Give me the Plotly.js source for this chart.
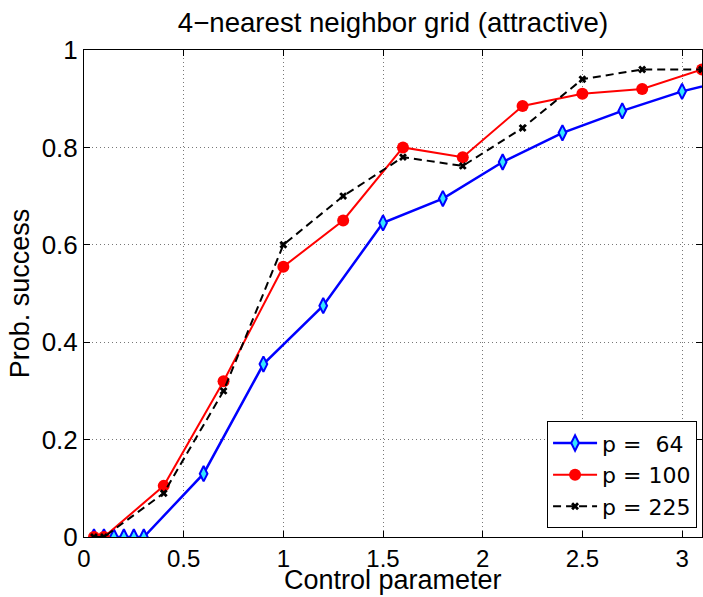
<!DOCTYPE html>
<html>
<head>
<meta charset="utf-8">
<script src="https://cdn.plot.ly/plotly-3.0.1.min.js"></script>
<style>html,body{margin:0;padding:0;background:#fff;}#chart{width:703px;height:597px;}</style>
</head>
<body>
<div id="chart"></div>
<script>
const x64 = [0.05, 0.1, 0.15, 0.2, 0.25, 0.3, 0.6, 0.9, 1.2, 1.5, 1.8, 2.1, 2.4, 2.7, 3.0, 3.3];
const y64 = [0, 0, 0, 0, 0, 0, 0.13, 0.355, 0.475, 0.645, 0.695, 0.77, 0.83, 0.875, 0.915, 0.945];
const x100 = [0.05, 0.1, 0.4, 0.7, 1.0, 1.3, 1.6, 1.9, 2.2, 2.5, 2.8, 3.1];
const y100 = [0, 0, 0.105, 0.32, 0.555, 0.65, 0.80, 0.78, 0.885, 0.91, 0.92, 0.96];
const x225 = [0.05, 0.1, 0.4, 0.7, 1.0, 1.3, 1.6, 1.9, 2.2, 2.5, 2.8, 3.1];
const y225 = [0, 0, 0.09, 0.30, 0.60, 0.70, 0.78, 0.762, 0.84, 0.94, 0.96, 0.96];
const names = ['p =  64', 'p = 100', 'p = 225'];
const xTicks = [0, 0.5, 1, 1.5, 2, 2.5, 3];
const yTicks = [0, 0.2, 0.4, 0.6, 0.8, 1];
const xTitle = 'Control parameter';

const font = {family: 'Liberation Sans, Arial, sans-serif', color: '#000'};
const traces = [
  {x: x64, y: y64, name: names[0], mode: 'lines+markers', cliponaxis: true,
   line: {color: '#0000ff', width: 2.5},
   marker: {symbol: 'diamond-tall', size: 11, color: '#33e6ff', line: {color: '#0000ff', width: 2}}},
  {x: x100, y: y100, name: names[1], mode: 'lines+markers', cliponaxis: true,
   line: {color: '#ff0000', width: 2},
   marker: {symbol: 'circle', size: 12, color: '#ff0000'}},
  {x: x225, y: y225, name: names[2], mode: 'lines+markers', cliponaxis: true,
   line: {color: '#000000', width: 2, dash: '8px,5px'},
   marker: {symbol: 'x', size: 7, color: '#000000'}}
];
const axisCommon = {
  showline: true, linecolor: '#000', linewidth: 1, mirror: 'ticks',
  ticks: 'inside', ticklen: 6, tickcolor: '#000',
  showgrid: true, gridcolor: '#777', griddash: '1px,3px', gridwidth: 1,
  zeroline: false
};
const layout = {
  width: 703, height: 597,
  margin: {l: 84, r: 1, t: 50, b: 60, autoexpand: false},
  paper_bgcolor: '#fff', plot_bgcolor: '#fff',
  title: {text: '4\u2212nearest neighbor grid (attractive)', font: Object.assign({size: 27.6}, font),
    x: 0.559, xanchor: 'center', yref: 'container', y: 0.963, yanchor: 'middle'},
  xaxis: Object.assign({}, axisCommon, {range: [0, 3.1], tickvals: xTicks, ticktext: xTicks.map(String),
    tickfont: Object.assign({size: 24}, font), ticklabelstandoff: 0, automargin: false}),
  yaxis: Object.assign({}, axisCommon, {range: [0, 1], tickvals: yTicks, ticktext: yTicks.map(String),
    tickfont: Object.assign({size: 26}, font), automargin: false, ticklabelstandoff: 0,
    title: {text: 'Prob. success', font: Object.assign({size: 27}, font), standoff: 4}}),
  annotations: [{text: xTitle, xref: 'paper', yref: 'paper', x: 0.5, xanchor: 'center',
    y: -0.1225, yanchor: 'bottom', showarrow: false, font: Object.assign({size: 27}, font)}],
  legend: {x: 0.992, xanchor: 'right', y: 0.018, yanchor: 'bottom', bgcolor: '#fff', bordercolor: '#000', borderwidth: 1,
    font: {family: 'DejaVu Sans, sans-serif', size: 22, color: '#000'}, tracegroupgap: 0, itemwidth: 44},
  showlegend: true
};
Plotly.newPlot('chart', traces, layout, {displayModeBar: false, staticPlot: true});
</script>
</body>
</html>
